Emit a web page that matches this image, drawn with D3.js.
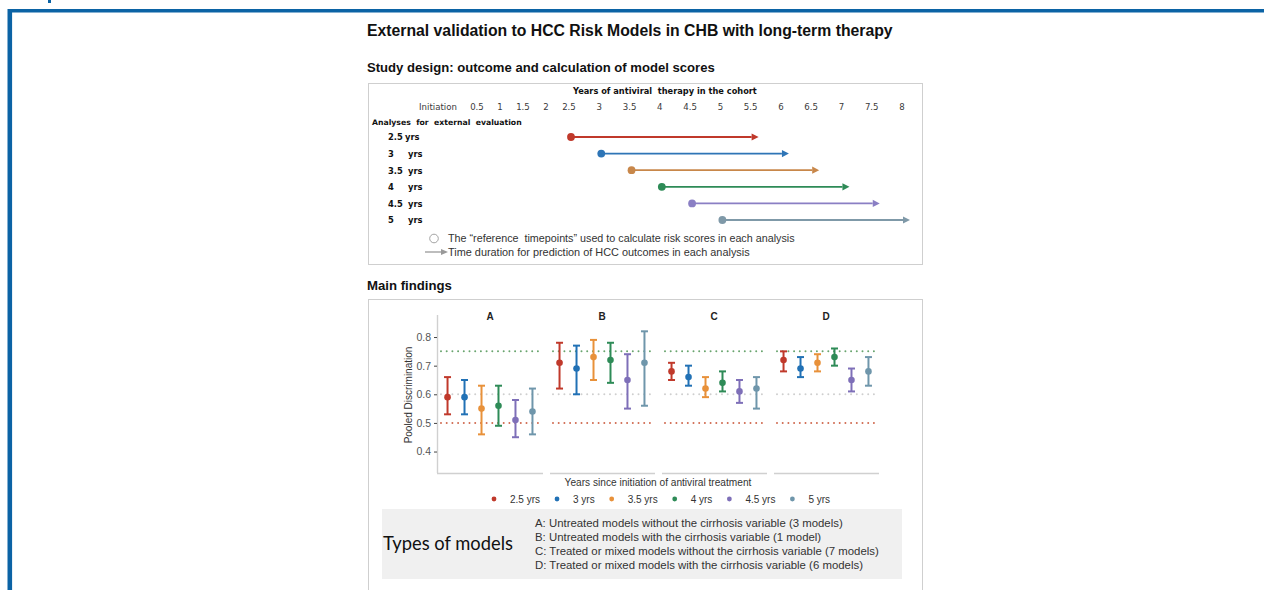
<!DOCTYPE html>
<html lang="en">
  <head>
    <meta charset="UTF-8" />
    <title>HCC Risk Models</title>
    <style>
      html, body { margin: 0; padding: 0; background: #fff; }
      svg { display: block; }
    </style>
  </head>
  <body>
    <svg id="chart" width="1264" height="590"></svg>

    <script src="https://d3js.org/d3.v7.min.js"></script>
    <script>
      // ---- data ----
      const yearTicks = [0, 0.5, 1, 1.5, 2, 2.5, 3, 3.5, 4, 4.5, 5, 5.5, 6, 6.5, 7, 7.5, 8];
      const yearLabels = ["Initiation", "0.5", "1", "1.5", "2", "2.5", "3", "3.5", "4", "4.5", "5", "5.5", "6", "6.5", "7", "7.5", "8"];
      const analyses = ["2.5", "3", "3.5", "4", "4.5", "5"];
      const analysisStart = [2.5, 3, 3.5, 4, 4.5, 5];
      const analysisEnd = [5.5, 6, 6.5, 7, 7.5, 8];

      const panels = ["A", "B", "C", "D"];
      const series = ["2.5 yrs", "3 yrs", "3.5 yrs", "4 yrs", "4.5 yrs", "5 yrs"];
      // pooled discrimination: point estimate, lower, upper (per panel, per series)
      const estimate = [
        [0.59, 0.59, 0.55, 0.56, 0.51, 0.54],
        [0.71, 0.69, 0.73, 0.72, 0.65, 0.71],
        [0.68, 0.66, 0.62, 0.64, 0.61, 0.62],
        [0.72, 0.69, 0.71, 0.73, 0.65, 0.68]
      ];
      const lower = [
        [0.53, 0.53, 0.46, 0.49, 0.45, 0.46],
        [0.62, 0.60, 0.65, 0.64, 0.55, 0.56],
        [0.65, 0.63, 0.59, 0.61, 0.57, 0.55],
        [0.68, 0.66, 0.68, 0.70, 0.61, 0.63]
      ];
      const upper = [
        [0.66, 0.65, 0.63, 0.63, 0.58, 0.62],
        [0.78, 0.77, 0.79, 0.78, 0.74, 0.82],
        [0.71, 0.70, 0.66, 0.68, 0.65, 0.66],
        [0.75, 0.73, 0.74, 0.76, 0.69, 0.73]
      ];
      const yTicks = [0.4, 0.5, 0.6, 0.7, 0.8];
      const refLines = [0.75, 0.6, 0.5];

      const modelTypes = [
        "A: Untreated models without the cirrhosis variable (3 models)",
        "B: Untreated models with the cirrhosis variable (1 model)",
        "C: Treated or mixed models without the cirrhosis variable (7 models)",
        "D: Treated or mixed models with the cirrhosis variable (6 models)"
      ];

      const designColors = ["#c0392b", "#2e75b6", "#c8874a", "#2e8b57", "#8a7fc4", "#7f99a8"];
      const plotColors = ["#c0392b", "#2171b5", "#e8913a", "#2e8b57", "#7e6fb8", "#6f96ab"];
      const refColors = ["#6aa56f", "#cfcfcf", "#d06a50"];

      const svg = d3.select("#chart");
      const ARIAL = "'Liberation Sans', Arial, sans-serif";
      const VERD = "'DejaVu Sans', Verdana, sans-serif";

      // stretch/shrink a text to a target width
      function fit(sel, w) {
        const len = sel.node().getComputedTextLength();
        const fs = parseFloat(sel.attr("font-size"));
        sel.attr("font-size", (fs * w) / len);
        return sel;
      }

      // ---- page frame ----
      svg.append("rect").attr("x", 48).attr("y", 0).attr("width", 3).attr("height", 3).attr("fill", "#0b63a5");
      svg.append("line").attr("x1", 8).attr("x2", 1264).attr("y1", 10.8).attr("y2", 10.8)
        .attr("stroke", "#0b63a5").attr("stroke-width", 3.6);
      svg.append("line").attr("x1", 9.8).attr("x2", 9.8).attr("y1", 9).attr("y2", 590)
        .attr("stroke", "#0b63a5").attr("stroke-width", 4.6);

      // ---- titles ----
      fit(svg.append("text").attr("x", 367).attr("y", 36).attr("font-family", ARIAL)
        .attr("font-weight", "bold").attr("font-size", 15).attr("fill", "#111")
        .text("External validation to HCC Risk Models in CHB with long-term therapy"), 526);
      fit(svg.append("text").attr("x", 367).attr("y", 72).attr("font-family", ARIAL)
        .attr("font-weight", "bold").attr("font-size", 12.5).attr("fill", "#111")
        .text("Study design: outcome and calculation of model scores"), 348);
      fit(svg.append("text").attr("x", 367).attr("y", 290).attr("font-family", ARIAL)
        .attr("font-weight", "bold").attr("font-size", 12.5).attr("fill", "#111")
        .text("Main findings"), 85);

      // ---- study design box ----
      svg.append("rect").attr("x", 368.5).attr("y", 83.5).attr("width", 554).attr("height", 181)
        .attr("fill", "none").attr("stroke", "#cfcfcf");

      const xYear = d3.scaleLinear().domain([0, 0.5, 2.5, 8]).range([438, 477, 569, 902]);
      const yRow = d3.scalePoint().domain(analyses).range([137, 220]);

      fit(svg.append("text").attr("x", 573).attr("y", 94).attr("font-family", VERD)
        .attr("font-weight", "bold").attr("font-size", 8).attr("fill", "#111")
        .style("white-space", "pre").text("Years of antiviral  therapy in the cohort"), 184);

      svg.append("g").selectAll("text").data(yearTicks).join("text")
        .attr("x", d => xYear(d)).attr("y", 110).attr("text-anchor", "middle")
        .attr("font-family", VERD).attr("font-size", 8.6).attr("fill", "#3a3a3a")
        .text((d, i) => yearLabels[i]);

      fit(svg.append("text").attr("x", 372).attr("y", 125).attr("font-family", VERD)
        .attr("font-weight", "bold").attr("font-size", 8).attr("fill", "#111")
        .style("white-space", "pre").text("Analyses  for  external  evaluation"), 150);

      const rows = svg.append("g").selectAll("g").data(analyses).join("g");
      rows.append("text").attr("x", 388).attr("y", d => yRow(d) + 3.3)
        .attr("font-family", VERD).attr("font-weight", "bold").attr("font-size", 8.4).attr("fill", "#111")
        .text(d => d);
      rows.append("text").attr("x", (d, i) => (i === 0 ? 405 : 408)).attr("y", d => yRow(d) + 3.3)
        .attr("font-family", VERD).attr("font-weight", "bold").attr("font-size", 8.4).attr("fill", "#111")
        .text("yrs");
      rows.append("line")
        .attr("x1", (d, i) => xYear(analysisStart[i]) + 2).attr("x2", (d, i) => xYear(analysisEnd[i]) + 1)
        .attr("y1", d => yRow(d)).attr("y2", d => yRow(d))
        .attr("stroke", (d, i) => designColors[i]).attr("stroke-width", 1.8);
      rows.append("path")
        .attr("d", (d, i) => {
          const x = xYear(analysisEnd[i]) + 1, y = yRow(d);
          return `M${x},${y - 3.6}L${x + 7},${y}L${x},${y + 3.6}Z`;
        })
        .attr("fill", (d, i) => designColors[i]);
      rows.append("circle")
        .attr("cx", (d, i) => xYear(analysisStart[i]) + 2).attr("cy", d => yRow(d)).attr("r", 3.9)
        .attr("fill", (d, i) => designColors[i]);

      // design legend
      svg.append("circle").attr("cx", 434).attr("cy", 238.5).attr("r", 4.3)
        .attr("fill", "#fff").attr("stroke", "#999").attr("stroke-width", 0.9);
      fit(svg.append("text").attr("x", 448).attr("y", 242).attr("font-family", ARIAL)
        .attr("font-size", 11).attr("fill", "#333").style("white-space", "pre")
        .text("The \u201Creference  timepoints\u201D used to calculate risk scores in each analysis"), 347);
      svg.append("line").attr("x1", 425).attr("x2", 442).attr("y1", 252).attr("y2", 252)
        .attr("stroke", "#999").attr("stroke-width", 1.3);
      svg.append("path").attr("d", "M441,249L448,252L441,255Z").attr("fill", "#999");
      fit(svg.append("text").attr("x", 448).attr("y", 256).attr("font-family", ARIAL)
        .attr("font-size", 11).attr("fill", "#333")
        .text("Time duration for prediction of HCC outcomes in each analysis"), 302);

      // ---- main findings box ----
      svg.append("rect").attr("x", 368.5).attr("y", 299.5).attr("width", 554).attr("height", 300)
        .attr("fill", "none").attr("stroke", "#cfcfcf");

      const y = d3.scaleLinear().domain([0.325, 0.877]).range([473, 315]);
      const xPanel = d3.scaleBand().domain(panels).range([437, 879]).paddingInner(6 / 112).paddingOuter(0);
      const xSeries = d3.scalePoint().domain(series).range([0, xPanel.bandwidth()]).padding(0.62);

      // y axis
      const yAxis = svg.append("g").attr("transform", "translate(437,0)")
        .call(d3.axisLeft(y).tickValues(yTicks).tickSize(3).tickPadding(3).tickFormat(d3.format(".1f")));
      yAxis.select(".domain").attr("stroke", "#d0d0d0").attr("stroke-width", 1.4)
        .attr("d", `M0.5,${y.range()[1]}V${y.range()[0]}`);
      yAxis.selectAll(".tick line").attr("stroke", "#444");
      yAxis.selectAll(".tick text").attr("fill", "#555").attr("font-family", ARIAL).attr("font-size", 10.5);

      svg.append("text").attr("transform", "translate(412,395) rotate(-90)")
        .attr("text-anchor", "middle").attr("font-family", ARIAL).attr("font-size", 10)
        .attr("fill", "#333").text("Pooled Discrimination");

      const facet = svg.append("g").selectAll("g").data(panels).join("g")
        .attr("transform", d => `translate(${xPanel(d)},0)`);

      facet.append("text").attr("x", xPanel.bandwidth() / 2).attr("y", 320)
        .attr("text-anchor", "middle").attr("font-family", ARIAL).attr("font-weight", "bold")
        .attr("font-size", 10).attr("fill", "#222").text(d => d);

      facet.append("line").attr("x1", (d, i) => (i === 0 ? 0 : 1)).attr("x2", xPanel.bandwidth())
        .attr("y1", 473.5).attr("y2", 473.5).attr("stroke", "#d0d0d0").attr("stroke-width", 1.4);

      refLines.forEach((v, k) => {
        facet.append("line").attr("x1", 4).attr("x2", xPanel.bandwidth())
          .attr("y1", y(v)).attr("y2", y(v))
          .attr("stroke", refColors[k]).attr("stroke-width", 2)
          .attr("stroke-linecap", "round").attr("stroke-dasharray", "0,5.7");
      });

      facet.each(function (p, pi) {
        const g = d3.select(this).selectAll("g.bar").data(series).join("g").attr("class", "bar")
          .attr("transform", d => `translate(${xSeries(d)},0)`);
        g.append("line").attr("y1", (d, i) => y(lower[pi][i])).attr("y2", (d, i) => y(upper[pi][i]))
          .attr("stroke", (d, i) => plotColors[i]).attr("stroke-width", 2);
        g.append("line").attr("x1", -3.5).attr("x2", 3.5)
          .attr("y1", (d, i) => y(lower[pi][i])).attr("y2", (d, i) => y(lower[pi][i]))
          .attr("stroke", (d, i) => plotColors[i]).attr("stroke-width", 2);
        g.append("line").attr("x1", -3.5).attr("x2", 3.5)
          .attr("y1", (d, i) => y(upper[pi][i])).attr("y2", (d, i) => y(upper[pi][i]))
          .attr("stroke", (d, i) => plotColors[i]).attr("stroke-width", 2);
        g.append("circle").attr("cy", (d, i) => y(estimate[pi][i])).attr("r", 3.3)
          .attr("fill", (d, i) => plotColors[i]);
      });

      fit(svg.append("text").attr("x", 658).attr("y", 486).attr("text-anchor", "middle")
        .attr("font-family", ARIAL).attr("font-size", 10).attr("fill", "#333")
        .text("Years since initiation of antiviral treatment"), 187);

      // series legend
      const legend = svg.append("g");
      let lx = 494;
      series.forEach((s, i) => {
        legend.append("circle").attr("cx", lx).attr("cy", 499).attr("r", 2.4).attr("fill", plotColors[i]);
        const t = legend.append("text").attr("x", lx + 16).attr("y", 502.5)
          .attr("font-family", ARIAL).attr("font-size", 10).attr("fill", "#333").text(s);
        lx += 16 + t.node().getComputedTextLength() + 17;
      });

      // ---- types of models ----
      svg.append("rect").attr("x", 382).attr("y", 509).attr("width", 520).attr("height", 70).attr("fill", "#f0f0f0");
      fit(svg.append("text").attr("x", 383).attr("y", 550).attr("font-family", "Lato, 'Open Sans', sans-serif")
        .attr("font-size", 18).attr("fill", "#111").text("Types of models"), 130);
      svg.append("g").selectAll("text").data(modelTypes).join("text")
        .attr("x", 535).attr("y", (d, i) => 527 + i * 14)
        .attr("font-family", ARIAL).attr("font-size", 11.4).attr("fill", "#333")
        .text(d => d);
    </script>
  </body>
</html>
